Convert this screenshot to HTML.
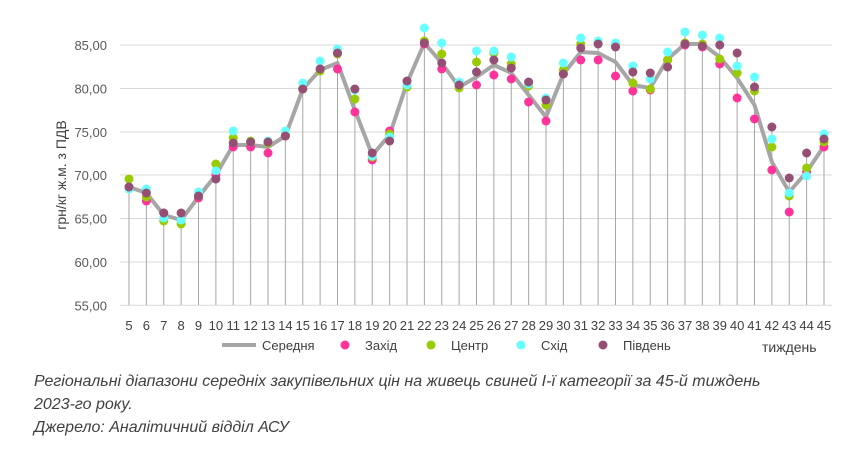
<!DOCTYPE html>
<html><head><meta charset="utf-8"><style>
body{margin:0;background:#fff;width:863px;height:471px;overflow:hidden;font-family:"Liberation Sans",sans-serif}
svg text{font-family:"Liberation Sans",sans-serif}
.cap{position:absolute;left:34px;font-style:italic;font-size:16px;color:#404040}
</style></head><body>
<svg id="c" width="863" height="471" style="position:absolute;left:0;top:0"></svg>
<div class="cap" style="top:373px">Регіональні діапазони середніх закупівельних цін на живець свиней I-ї категорії за 45-й тиждень</div>
<div class="cap" style="top:396px">2023-го року.</div>
<div class="cap" style="top:419px">Джерело: Аналітичний відділ АСУ</div>
<script>
const X=w=>129+(w-5)*17.375;
const d={5:[187,187,179,189,187],6:[193,201,197,189,193],7:[215,213,221,218,213],8:[220,220,224,220,213],9:[197,198,196,192,196],10:[175,175,164,171,179],11:[145,147,138,131,143],12:[145,147,141,142,142],13:[147,153,143,141,142],14:[136,136,135,131,136],15:[89,89,89,83,89],16:[70,69,71,61,69],17:[63,69,54,49,53],18:[110,112,99,90,89],19:[155,160,157,156,153],20:[135,131,134,137,141],21:[83,85,87,85,81],22:[43,44,41,28,43],23:[63,69,54,43,63],24:[87,86,88,82,85],25:[77,85,62,51,72],26:[65,75,53,51,60],27:[73,79,64,57,68],28:[95,102,86,84,82],29:[117,121,105,98,100],30:[74,74,70,63,74],31:[52,60,44,38,48],32:[53,60,43,41,44],33:[62,76,45,43,47],34:[85,91,83,66,72],35:[88,90,89,79,73],36:[59,60,60,52,67],37:[44,45,43,32,44],38:[44,47,44,35,46],39:[57,64,59,38,45],40:[78,98,73,66,53],41:[105,119,91,77,87],42:[162,170,147,139,127],43:[192,212,196,193,178],44:[172,172,168,176,153],45:[146,147,142,134,139]};
const col=[null,"#ff3399","#99cc00","#66ffff","#964f74"];
let s="";
const gy=[45,88.5,132,175,218.5,262,305.3],gl=["85,00","80,00","75,00","70,00","65,00","60,00","55,00"];
gy.forEach((y,i)=>{s+=`<line x1="120" x2="832" y1="${y}" y2="${y}" stroke="#d9d9d9" stroke-width="1"/>`;s+=`<text x="107" y="${y+5}" font-size="13" fill="#595959" text-anchor="end">${gl[i]}</text>`});
for(let w=5;w<=45;w++){const v=d[w];const top=Math.min(...v);s+=`<line x1="${X(w)}" x2="${X(w)}" y1="${top}" y2="305" stroke="#a6a6a6" stroke-width="1"/>`;s+=`<text x="${X(w)}" y="330" font-size="13" fill="#404040" text-anchor="middle">${w}</text>`}
let p=[];for(let w=5;w<=45;w++)p.push(X(w)+","+d[w][0]);
s+=`<polyline points="${p.join(" ")}" fill="none" stroke="#a6a6a6" stroke-width="4" stroke-linejoin="round"/>`;
for(let k=1;k<=4;k++)for(let w=5;w<=45;w++)s+=`<circle cx="${X(w)}" cy="${d[w][k]}" r="4.5" fill="${col[k]}"/>`;
s+=`<line x1="222" x2="256" y1="345" y2="345" stroke="#a6a6a6" stroke-width="4"/><text x="262" y="350" font-size="13" fill="#404040">Середня</text>`;
[[345,"Захід",1],[431,"Центр",2],[521,"Схід",3],[603,"Південь",4]].forEach(a=>{s+=`<circle cx="${a[0]}" cy="345" r="4.5" fill="${col[a[2]]}"/><text x="${a[0]+20}" y="350" font-size="13" fill="#404040">${a[1]}</text>`});
s+=`<text x="762" y="352" font-size="14" fill="#404040">тиждень</text>`;
s+=`<text transform="translate(66,175) rotate(-90)" font-size="14" fill="#404040" text-anchor="middle">грн/кг ж.м. з ПДВ</text>`;
document.getElementById("c").innerHTML=s;
</script>
</body></html>
